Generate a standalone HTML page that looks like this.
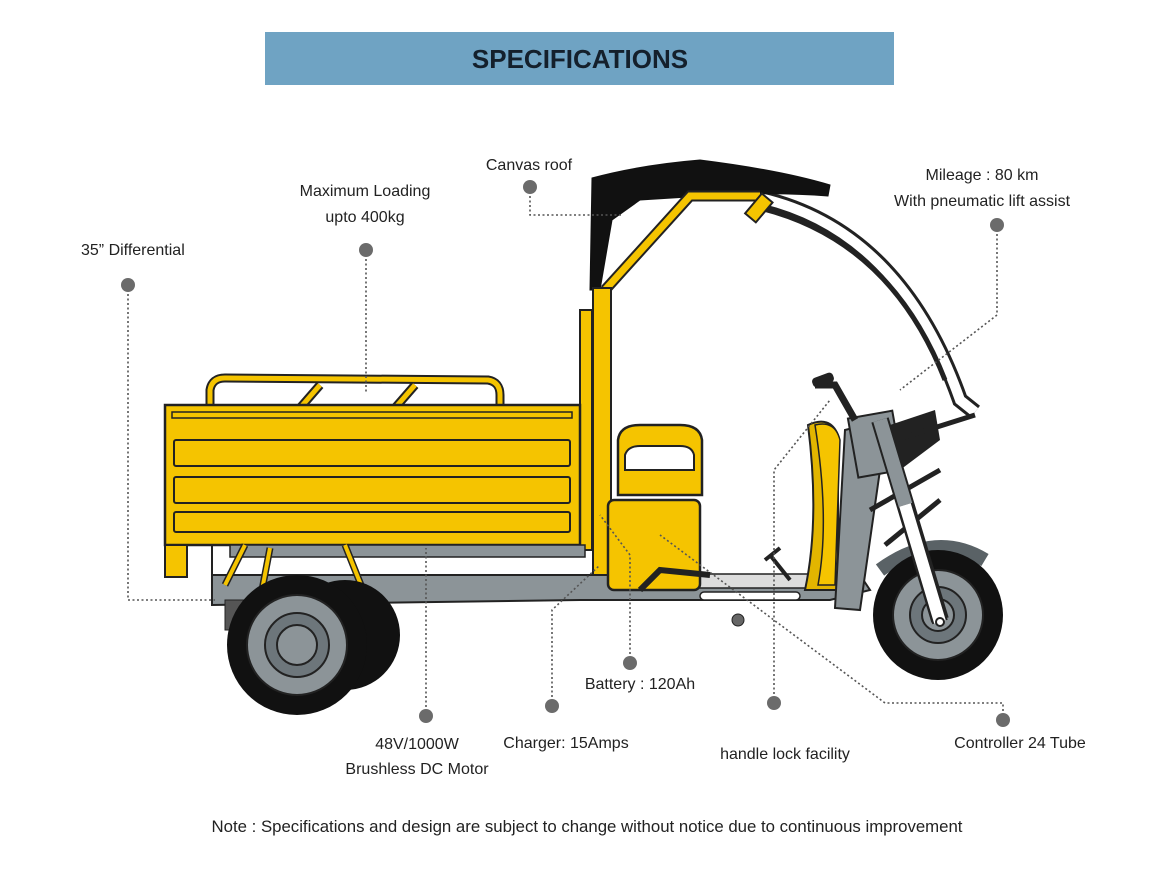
<!DOCTYPE html>
<html><head><meta charset="utf-8"><style>
html,body{margin:0;padding:0;background:#fff;}
svg{display:block;}
text{font-family:"Liberation Sans",sans-serif;fill:#222;}
</style></head><body>
<svg width="1166" height="884" viewBox="0 0 1166 884" xmlns="http://www.w3.org/2000/svg">
<rect x="265" y="32" width="629" height="53" fill="#6fa3c3"/>
<text x="580" y="68" text-anchor="middle" font-size="26" font-weight="bold" style="fill:#14202c">SPECIFICATIONS</text>

<path d="M760 198 Q900 230 960 400 L975 412" fill="none" stroke="#222" stroke-width="16"/>
<path d="M760 198 Q900 230 960 400 L975 412" fill="none" stroke="#fff" stroke-width="10"/>
<path d="M760 208 Q890 240 945 380" fill="none" stroke="#222" stroke-width="5"/>
<path d="M592 178 Q640 165 700 160 Q780 170 830 185 L828 196 Q780 192 720 195 L640 200 L612 220 L600 290 L590 290 Z" fill="#111" stroke="#111"/>
<path d="M605 290 L690 196 L760 196" fill="none" stroke="#222" stroke-width="11"/>
<path d="M605 290 L690 196 L760 196" fill="none" stroke="#f5c400" stroke-width="7"/>
<rect x="754" y="195" width="14" height="26" transform="rotate(40 760 205)" fill="#f5c400" stroke="#222" stroke-width="2"/>
<rect x="580" y="310" width="12" height="240" fill="#f5c400" stroke="#222" stroke-width="2"/>
<rect x="593" y="288" width="18" height="310" fill="#f5c400" stroke="#222" stroke-width="2"/>

<path d="M210 408 L210 390 Q212 378 225 378 L488 380 Q500 382 500 395 L500 410" fill="none" stroke="#222" stroke-width="9"/>
<path d="M210 408 L210 390 Q212 378 225 378 L488 380 Q500 382 500 395 L500 410" fill="none" stroke="#f5c400" stroke-width="5"/>
<path d="M300 408 L320 385 M395 408 L415 385" stroke="#222" stroke-width="9"/>
<path d="M300 408 L320 385 M395 408 L415 385" stroke="#f5c400" stroke-width="5"/>
<rect x="165" y="405" width="415" height="140" fill="#f5c400" stroke="#222" stroke-width="2.5"/>
<rect x="172" y="412" width="400" height="6" fill="none" stroke="#222" stroke-width="1.5"/>
<rect x="174" y="440" width="396" height="26" rx="2" fill="none" stroke="#222" stroke-width="2"/>
<rect x="174" y="477" width="396" height="26" rx="2" fill="none" stroke="#222" stroke-width="2"/>
<rect x="174" y="512" width="396" height="20" rx="2" fill="none" stroke="#222" stroke-width="2"/>
<rect x="165" y="545" width="22" height="32" fill="#f5c400" stroke="#222" stroke-width="2"/>

<path d="M212 545 L212 605 L580 600 L830 600 L870 590 L860 575 L580 575 L212 575" fill="#8c9498" stroke="#222" stroke-width="2"/>
<rect x="230" y="545" width="355" height="12" fill="#8c9498" stroke="#222" stroke-width="1.5"/>
<path d="M225 585 L245 545 M345 545 L365 595 M270 548 L262 590" stroke="#222" stroke-width="7"/>
<path d="M225 585 L245 545 M345 545 L365 595 M270 548 L262 590" stroke="#f5c400" stroke-width="4"/>
<rect x="640" y="574" width="190" height="14" fill="#ddd" stroke="#222" stroke-width="1.5"/>
<rect x="700" y="592" width="100" height="8" rx="4" fill="#fff" stroke="#222" stroke-width="1.5"/>

<circle cx="345" cy="635" r="55" fill="#111"/>
<rect x="225" y="600" width="90" height="30" fill="#555" stroke="#222"/>
<circle cx="297" cy="645" r="70" fill="#111"/>
<circle cx="297" cy="645" r="50" fill="#8c9498" stroke="#222" stroke-width="2"/>
<circle cx="297" cy="645" r="32" fill="#6d767b" stroke="#222" stroke-width="2"/>
<circle cx="297" cy="645" r="20" fill="#8c9498" stroke="#222" stroke-width="2"/>

<path d="M618 495 L618 440 Q620 425 640 425 L680 425 Q700 425 702 440 L702 495 Z" fill="#f5c400" stroke="#222" stroke-width="2.5"/>
<path d="M625 470 L625 455 Q628 446 640 446 L680 446 Q692 446 694 455 L694 470 Z" fill="#fff" stroke="#222" stroke-width="2"/>
<rect x="608" y="500" width="92" height="90" rx="6" fill="#f5c400" stroke="#222" stroke-width="2.5"/>
<path d="M640 590 L660 570 L710 575" stroke="#222" stroke-width="6" fill="none"/>
<path d="M770 555 L790 580 M765 560 L780 548" stroke="#222" stroke-width="4" fill="none"/>
<circle cx="738" cy="620" r="6" fill="#666" stroke="#222"/>

<path d="M808 425 Q830 415 838 435 L838 590 L805 590 Q820 520 808 425 Z" fill="#e2b500" stroke="#222" stroke-width="2"/>
<path d="M815 425 Q835 420 840 440 L835 585 L818 585 Q830 520 815 425 Z" fill="#f5c400" stroke="#222" stroke-width="1.5"/>
<path d="M845 430 L885 420 L880 470 L860 610 L835 608 Z" fill="#8c9498" stroke="#222" stroke-width="2"/>
<rect x="852" y="415" width="45" height="60" fill="#8c9498" stroke="#222" stroke-width="2" transform="rotate(-10 870 440)"/>
<path d="M890 425 L935 410 L940 440 L900 470 Z" fill="#222"/>
<path d="M880 445 L975 415 M870 510 L940 470 M885 545 L940 500" stroke="#222" stroke-width="5"/>
<path d="M815 385 L835 385 L855 420" stroke="#222" stroke-width="7" fill="none"/>
<rect x="812" y="375" width="22" height="10" rx="4" fill="#222" transform="rotate(-20 823 380)"/>

<path d="M880 570 Q935 530 985 560" fill="none" stroke="#5a6266" stroke-width="14"/>
<circle cx="938" cy="615" r="65" fill="#111"/>
<circle cx="938" cy="615" r="45" fill="#8c9498" stroke="#222" stroke-width="2"/>
<circle cx="938" cy="615" r="28" fill="#6d767b" stroke="#222" stroke-width="2"/>
<circle cx="938" cy="615" r="16" fill="#8c9498" stroke="#222" stroke-width="2"/>
<path d="M880 420 L940 620" stroke="#222" stroke-width="18"/>
<path d="M880 420 L940 620" stroke="#8c9498" stroke-width="14"/>
<path d="M905 505 L940 622" stroke="#222" stroke-width="16"/>
<path d="M905 505 L940 622" stroke="#fff" stroke-width="12"/>
<circle cx="940" cy="622" r="4" fill="#fff" stroke="#222" stroke-width="2"/>

<g fill="none" stroke="#555" stroke-width="1.6" stroke-dasharray="2 2.5">
<path d="M530 187 L530 215 L622 215"/>
<path d="M366 250 L366 392"/>
<path d="M128 285 L128 600 L215 600"/>
<path d="M997 225 L997 315 L900 390"/>
<path d="M426 716 L426 548"/>
<path d="M552 706 L552 610 L600 565"/>
<path d="M630 663 L630 555 L600 515"/>
<path d="M774 703 L774 470 L830 400"/>
<path d="M1003 720 L1003 703 L885 703 L660 535"/>
</g>
<g fill="#6b6b6b">
<circle cx="530" cy="187" r="7"/><circle cx="366" cy="250" r="7"/><circle cx="128" cy="285" r="7"/>
<circle cx="997" cy="225" r="7"/><circle cx="426" cy="716" r="7"/><circle cx="552" cy="706" r="7"/>
<circle cx="630" cy="663" r="7"/><circle cx="774" cy="703" r="7"/><circle cx="1003" cy="720" r="7"/>
</g>

<g font-size="16">
<text x="529" y="170" text-anchor="middle">Canvas roof</text>
<text x="365" y="196" text-anchor="middle">Maximum Loading</text>
<text x="365" y="222" text-anchor="middle">upto 400kg</text>
<text x="81" y="255">35” Differential</text>
<text x="982" y="180" text-anchor="middle">Mileage : 80 km</text>
<text x="982" y="206" text-anchor="middle">With  pneumatic lift assist</text>
<text x="640" y="689" text-anchor="middle">Battery : 120Ah</text>
<text x="417" y="749" text-anchor="middle">48V/1000W</text>
<text x="417" y="774" text-anchor="middle">Brushless DC Motor</text>
<text x="566" y="748" text-anchor="middle">Charger: 15Amps</text>
<text x="785" y="759" text-anchor="middle">handle lock facility</text>
<text x="1020" y="748" text-anchor="middle">Controller 24 Tube</text>
<text x="587" y="832" text-anchor="middle" font-size="16.8">Note : Specifications and design are subject to change without notice due to continuous improvement</text>
</g>
</svg>
</body></html>
